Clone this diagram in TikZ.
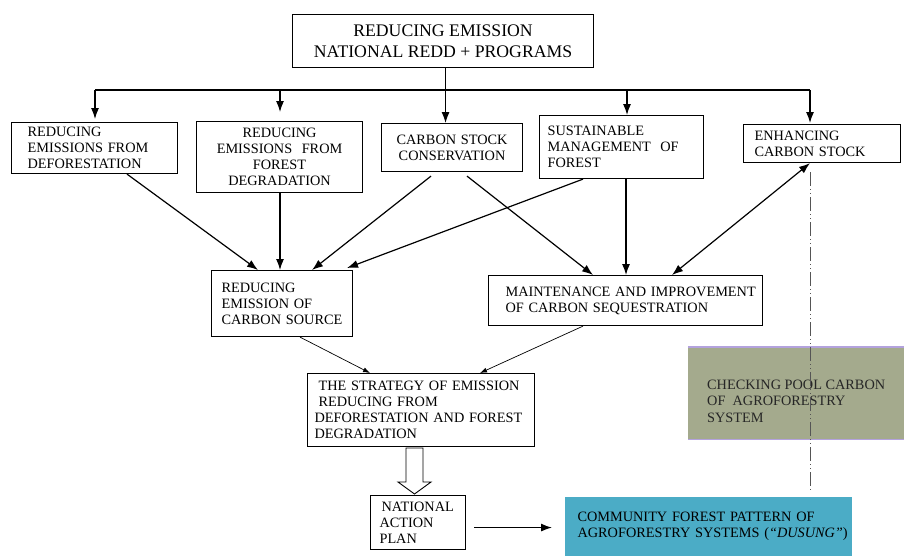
\documentclass[tikz,border=0pt]{standalone}
\usepackage{fontspec}
\setmainfont{Liberation Serif}
\usetikzlibrary{arrows.meta,calc}
\definecolor{chkfill}{HTML}{A4AA8D}
\definecolor{chkline}{HTML}{B3A2DD}
\definecolor{comfill}{HTML}{4BACC6}
\definecolor{dashgray}{HTML}{555555}
\hyphenpenalty=10000
\exhyphenpenalty=10000
\begin{document}
\begin{tikzpicture}[x=1pt,y=-1pt,
  bx/.style={draw, line width=1.1pt, anchor=north west, inner ysep=0pt, align=left,
    font=\fontsize{14.3}{16}\selectfont},
  arr/.style={line width=1.2pt, -{Latex[length=11pt,width=8pt]}},
  thinarr/.style={line width=0.7pt, -{Latex[length=7pt,width=5pt]}},
  dashdotline/.style={line width=1pt, dashgray, dash pattern=on 14pt off 3pt on 1pt off 3pt on 1pt off 3pt}]

\useasboundingbox (0,0) rectangle (904,555);

% boxes
\node[draw, line width=1.1pt, anchor=north west, inner ysep=0pt, minimum width=301pt, minimum height=53pt,
  align=center, font=\fontsize{17.7}{21}\selectfont] (top) at (292,14)
  {REDUCING EMISSION\\NATIONAL REDD + PROGRAMS};

\node[bx, minimum width=166pt, minimum height=51pt, text width=134pt, inner xsep=16pt] (def) at (11,122)
  {REDUCING\\EMISSIONS FROM\\DEFORESTATION};
\node[bx, align=center, minimum width=166pt, minimum height=71pt, text width=150pt, inner xsep=8pt] (deg) at (196,121)
  {REDUCING\\EMISSIONS~~FROM\\FOREST\\DEGRADATION};
\node[bx, align=center, minimum width=141pt, minimum height=48pt, text width=121pt, inner xsep=10pt] (cs) at (381,123)
  {CARBON~STOCK\\CONSERVATION};
\node[bx, minimum width=164pt, minimum height=63pt, text width=148pt, inner xsep=8pt] (sus) at (539,115)
  {SUSTAINABLE\\MANAGEMENT~~OF\\FOREST};
\node[bx, minimum width=157pt, minimum height=38pt, text width=135pt, inner xsep=11pt] (enh) at (743,124)
  {ENHANCING\\CARBON~STOCK};

\node[bx, minimum width=141pt, minimum height=66pt, text width=121pt, inner xsep=10pt] (src) at (211,270)
  {REDUCING\\EMISSION~OF\\CARBON~SOURCE};
\node[bx, minimum width=274pt, minimum height=50pt, text width=240pt, inner xsep=17pt] (mnt) at (488,275)
  {\mbox{MAINTENANCE AND IMPROVEMENT}\\\mbox{OF CARBON SEQUESTRATION}};

\node[bx, minimum width=227pt, minimum height=73pt, text width=213pt, inner xsep=7pt] (str) at (307,373)
  {\hspace*{4pt}THE~STRATEGY~OF~EMISSION\\\hspace*{4pt}REDUCING~FROM\\DEFORESTATION~AND~FOREST\\DEGRADATION};

\node[bx, minimum width=95pt, minimum height=54pt, text width=77pt, inner xsep=9pt] (nap) at (370,495)
  {\hspace*{2pt}NATIONAL\\ACTION\\PLAN};

% checking pool box
\node[fill=chkfill, anchor=north west, minimum width=220pt, minimum height=92pt, inner sep=0pt] (chk) at (688,347) {};
\draw[chkline, line width=1.6pt] (chk.north west) -- (chk.north east);
\draw[chkline, line width=0.8pt] (chk.south west) -- (chk.south east);
\node[anchor=west, align=left, inner sep=0pt, font=\fontsize{14.3}{16.5}\selectfont, text=black!85] (chktext)
  at ([xshift=19pt,yshift=-8pt]chk.west) {CHECKING~POOL~CARBON\\OF~~AGROFORESTRY\\SYSTEM};

% community box
\node[bx, draw=none, fill=comfill, minimum width=287pt, minimum height=60pt, text width=261pt, inner xsep=13pt] (com) at (564,496)
  {\mbox{COMMUNITY FOREST PATTERN OF}\\\mbox{AGROFORESTRY SYSTEMS (\textit{“DUSUNG”})}};

% top distribution bus
\coordinate (busL) at (95,90);
\coordinate (busD) at (280,90);
\coordinate (busS) at (627,90);
\coordinate (busR) at (810,90);
\coordinate (topout) at ([xshift=2.5pt]top.south);
\draw[line width=1.2pt] (busL) -- (busR);
\draw[arr] (topout) -- (topout |- cs.north);
\draw[arr, shorten >=3pt] (busL) -- (busL |- def.north);
\draw[arr, shorten >=9pt] (busD) -- (busD |- deg.north);
\draw[arr] (busS) -- (busS |- sus.north);
\draw[arr, shorten >=1pt] (busR) -- (busR |- enh.north);

% arrows into src
\draw[arr] ([xshift=116pt]def.south west) -- ([xshift=47pt]src.north west);
\draw[arr] ([xshift=84pt]deg.south west) -- ([xshift=69pt]src.north west);
\draw[arr] ([xshift=50pt,yshift=-4pt]cs.south west) -- ([xshift=101pt]src.north west);
\draw[arr] ([xshift=44pt]sus.south west) -- ([xshift=136pt,yshift=2pt]src.north west);

% arrows into mnt
\draw[arr] ([xshift=86pt,yshift=-4pt]cs.south west) -- ([xshift=105pt]mnt.north west);
\draw[arr] ([xshift=87pt]sus.south west) -- ([xshift=138pt]mnt.north west);
\draw[line width=1.2pt, {Latex[length=11pt,width=8pt]}-{Latex[length=11pt,width=8pt]}]
  ([xshift=184pt]mnt.north west) -- ([xshift=67pt]enh.south west);

% dash-dot line
\coordinate (dashend) at (810,492);
\draw[dashdotline] ([xshift=67pt,yshift=-9pt]enh.south west) -- (dashend);

% arrows into strategy
\draw[thinarr] ([xshift=89pt]src.south west) -- ([xshift=63pt]str.north west);
\draw[thinarr] ([xshift=95pt]mnt.south west) -- ([xshift=173pt]str.north west);

% hollow arrow
\draw[line width=0.9pt, fill=white] (406,448) -- (406,482) -- (398,482) -- (414.5,494) -- (431,482) -- (423,482) -- (423,448) -- cycle;

% national -> community
\draw[arr] ($(nap.east)+(8pt,-5pt)$) -- ($(nap.east -| com.west)+(-12pt,-5pt)$);

\end{tikzpicture}
\end{document}
